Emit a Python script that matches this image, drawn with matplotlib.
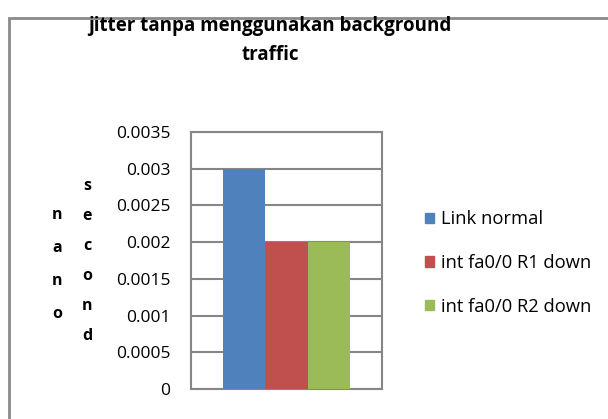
import matplotlib
matplotlib.use('Agg')
import matplotlib.pyplot as plt
from matplotlib.patches import Rectangle
import numpy as np

plt.rcParams['font.family'] = ['Open Sans', 'DejaVu Sans']

series = ['Link normal', 'int fa0/0 R1 down', 'int fa0/0 R2 down']
values = [0.003, 0.002, 0.002]
colors = ['#4F81BD', '#C0504D', '#9BBB59']
yticks = [0, 0.0005, 0.001, 0.0015, 0.002, 0.0025, 0.003, 0.0035]
ytick_labels = ['0', '0.0005', '0.001', '0.0015', '0.002', '0.0025', '0.003', '0.0035']

W, H = 608, 419
fig = plt.figure(figsize=(W / 100, H / 100), dpi=100)
ax = fig.add_axes([191 / W, 1 - 389 / H, (382 - 191) / W, (389 - 132) / H])

# outer chart border (clipped by figure edge on right/bottom)
fig.patches.append(Rectangle((8.5 / W, -0.1), 1.2, 1.1 - 18.5 / H,
                             transform=fig.transFigure, fill=False,
                             edgecolor='#8a8a8a', linewidth=2))

bw = 0.222
offsets = [-bw, 0, bw]
for name, v, c, off in zip(series, values, colors, offsets):
    ax.bar(off, v, bw, color=c, label=name, zorder=3)

ax.set_xlim(-0.5, 0.5)
ax.set_ylim(0, 0.0035)
ax.set_xticks([])
ax.set_yticks(yticks)
ax.set_yticklabels(ytick_labels, fontsize=12.5)
ax.tick_params(axis='y', length=0, pad=15)
ax.yaxis.grid(True, color='#868686', linewidth=1.5, zorder=0)
for s in ax.spines.values():
    s.set_color('#868686')
    s.set_linewidth(1.5)

fig.text(270 / W, 1 - 40 / H, 'jitter tanpa menggunakan background\ntraffic',
         ha='center', va='center', fontsize=13.5, fontweight='bold',
         linespacing=1.6)

# vertical stacked axis label
for i, ch in enumerate('nano'):
    fig.text(57 / W, 1 - (215 + i * 33) / H, ch, ha='center', va='center',
             fontsize=11.5, fontweight='bold')
for i, ch in enumerate('second'):
    fig.text(87 / W, 1 - (186 + i * 30) / H, ch, ha='center', va='center',
             fontsize=11.5, fontweight='bold')

handles = [Rectangle((0, 0), 1, 1, color=c) for c in colors]
leg = fig.legend(handles, series, loc='upper left',
                 bbox_to_anchor=(418 / W, 1 - 203 / H), frameon=False,
                 fontsize=13.2, handlelength=0.48, handleheight=0.48,
                 handletextpad=0.35, labelspacing=1.4, borderaxespad=0)

fig.savefig('out.png', dpi=100)
